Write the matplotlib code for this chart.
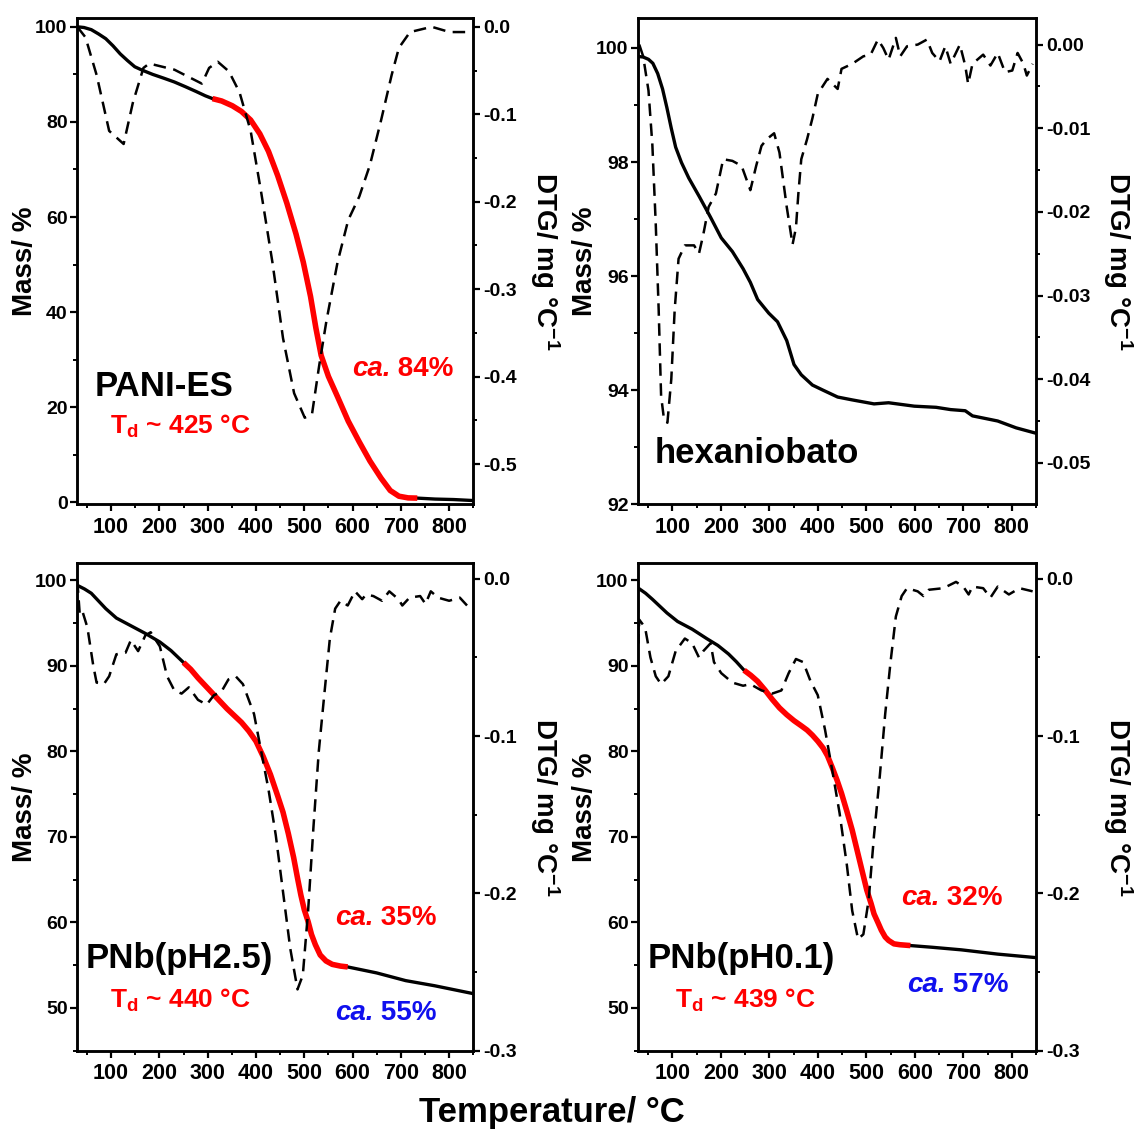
import numpy as np
import matplotlib
matplotlib.use('Agg')
from matplotlib import pyplot as plt
from matplotlib.ticker import MultipleLocator, FuncFormatter

plt.rcParams['font.family'] = ['Liberation Sans', 'DejaVu Sans']
plt.rcParams['font.weight'] = 'bold'
plt.rcParams['mathtext.fontset'] = 'custom'
plt.rcParams['mathtext.rm'] = 'Liberation Sans:bold'
plt.rcParams['mathtext.it'] = 'Liberation Sans:bold:italic'
plt.rcParams['mathtext.bf'] = 'Liberation Sans:bold'
plt.rcParams['axes.unicode_minus'] = False

RED = '#ff0000'
BLUE = '#1010ee'

# ---------------- PANI-ES ----------------
pani_T = [30, 44, 59, 74, 89, 104, 119, 134, 149, 164, 186, 209, 231, 254, 276, 295, 310,
          329, 351, 370, 389, 408, 426, 445, 464, 483, 498, 513, 524, 535, 550, 569, 591,
          614, 636, 659, 678, 696, 715, 734, 771, 809, 848]
pani_m = [100, 99.85, 99.4, 98.5, 97.5, 96.0, 94.3, 92.9, 91.6, 90.9, 90.0, 89.2, 88.4,
          87.4, 86.4, 85.5, 84.9, 84.4, 83.4, 82.2, 80.4, 77.5, 73.8, 68.7, 62.9, 56.4,
          50.5, 43.3, 36.7, 30.9, 26.5, 22.2, 17.1, 12.7, 8.7, 5.1, 2.5, 1.3, 0.95, 0.9,
          0.7, 0.6, 0.4]
pani_red = (310, 734)
pani_dT = [30, 47, 70, 96, 126, 145, 167, 179, 231, 288, 303, 321, 344, 366, 389, 411,
           434, 456, 479, 501, 516, 531, 546, 569, 591, 614, 636, 659, 681, 696, 719,
           764, 801, 848]
pani_dtg = [0.0, -0.012, -0.055, -0.119, -0.134, -0.087, -0.047, -0.042, -0.049, -0.065,
            -0.047, -0.040, -0.051, -0.075, -0.119, -0.19, -0.269, -0.356, -0.419, -0.447,
            -0.443, -0.387, -0.336, -0.269, -0.221, -0.194, -0.158, -0.107, -0.055,
            -0.024, -0.006, 0.0, -0.006, -0.006]

# ---------------- hexaniobato ----------------
hex_T = [30, 40, 51, 60, 70, 80, 89, 98, 107, 119, 134, 156, 179, 201, 224, 246, 261, 276,
         299, 317, 336, 351, 366, 389, 411, 441, 471, 516, 546, 599, 644, 674, 704, 719,
         771, 809, 848]
hex_m = [99.85, 99.84, 99.80, 99.73, 99.55, 99.28, 98.95, 98.59, 98.26, 97.99, 97.72,
         97.39, 97.03, 96.67, 96.43, 96.13, 95.89, 95.59, 95.35, 95.20, 94.87, 94.45,
         94.27, 94.09, 94.00, 93.88, 93.83, 93.76, 93.78, 93.72, 93.70, 93.66, 93.64,
         93.55, 93.46, 93.34, 93.25]
hex_dT = [32, 40, 51, 59, 66, 72, 77, 83, 90, 98, 105, 113, 126, 145, 155, 164, 175, 190,
          205, 224, 243, 261, 273, 284, 295, 310, 321, 336, 348, 355, 360, 366, 378, 389,
          400, 411, 420, 441, 449, 471, 494, 509, 524, 535, 546, 561, 570, 584, 606, 625,
          636, 651, 663, 674, 693, 704, 710, 719, 741, 756, 771, 786, 801, 812, 824, 831,
          843]
hex_dtg = [0.0, -0.0014, -0.0055, -0.012, -0.0215, -0.0317, -0.042, -0.0448, -0.0452,
           -0.040, -0.0317, -0.0256, -0.024, -0.024, -0.025, -0.0227, -0.0194, -0.0178,
           -0.0137, -0.0139, -0.0145, -0.0174, -0.0145, -0.0121, -0.0113, -0.0106, -0.0129,
           -0.0194, -0.0239, -0.0219, -0.0178, -0.0137, -0.0113, -0.0088, -0.0059, -0.0049,
           -0.0041, -0.0053, -0.0029, -0.0023, -0.0014, -0.0012, 0.0006, -0.0004, -0.0018,
           0.0008, -0.0014, -0.0002, 0.0, 0.0006, -0.001, -0.002, -0.0002, -0.0023, 0.0,
           -0.0025, -0.0047, -0.0023, -0.0012, -0.0025, -0.001, -0.0033, -0.0031, -0.001,
           -0.0023, -0.0037, -0.0023]

# ---------------- PNb(pH2.5) ----------------
p25_T = [31, 45, 59, 74, 89, 111, 141, 171, 201, 224, 250, 265, 280, 295, 310, 325, 340,
         355, 370, 385, 400, 415, 430, 445, 456, 467, 478, 486, 493, 500, 508, 515, 523,
         533, 545, 558, 575, 590, 650, 710, 770, 848]
p25_m = [99.4, 99.0, 98.5, 97.6, 96.7, 95.6, 94.7, 93.8, 92.8, 91.8, 90.4, 89.6, 88.6,
         87.7, 86.8, 85.9, 85.0, 84.2, 83.4, 82.4, 81.2, 79.4, 77.3, 74.8, 72.9, 70.4,
         67.6, 65.2, 63.2, 61.5, 60.1, 58.6, 57.4, 56.2, 55.5, 55.1, 54.9, 54.8, 54.1,
         53.2, 52.6, 51.7]
p25_red = (250, 590)
p25_dT = [30, 35, 40, 51, 63, 70, 85, 96, 111, 130, 141, 156, 171, 182, 201, 216, 231,
          246, 261, 280, 298, 313, 328, 343, 358, 373, 396, 411, 426, 441, 456, 471, 486,
          497, 508, 519, 530, 542, 553, 564, 575, 590, 605, 620, 628, 643, 661, 676, 695,
          703, 718, 740, 751, 762, 777, 800, 822, 837]
p25_dtg = [-0.001, -0.022, -0.02, -0.031, -0.055, -0.066, -0.067, -0.062, -0.048, -0.047,
           -0.039, -0.046, -0.036, -0.034, -0.043, -0.062, -0.071, -0.073, -0.069, -0.077,
           -0.080, -0.074, -0.072, -0.064, -0.062, -0.067, -0.086, -0.110, -0.134, -0.163,
           -0.199, -0.235, -0.261, -0.252, -0.211, -0.158, -0.110, -0.072, -0.038, -0.019,
           -0.014, -0.017, -0.008, -0.013, -0.010, -0.011, -0.014, -0.008, -0.013, -0.017,
           -0.012, -0.011, -0.016, -0.008, -0.012, -0.014, -0.012, -0.017]

# ---------------- PNb(pH0.1) ----------------
p01_T = [30, 45, 59, 74, 89, 111, 141, 171, 194, 216, 232, 248, 262, 276, 291, 306, 321,
         336, 351, 366, 378, 389, 400, 411, 420, 430, 440, 449, 460, 471, 486, 501, 510,
         516, 524, 531, 539, 546, 557, 569, 591, 636, 696, 771, 848]
p01_m = [99.1, 98.5, 97.8, 97.0, 96.2, 95.2, 94.3, 93.2, 92.4, 91.4, 90.5, 89.5, 88.9,
         88.2, 87.2, 86.1, 85.1, 84.3, 83.6, 83.0, 82.5, 81.9, 81.2, 80.4, 79.5, 78.1,
         76.6, 75.1, 73.0, 70.8, 67.3, 63.8, 62.2, 61.0, 60.0, 59.1, 58.3, 57.9, 57.5,
         57.4, 57.3, 57.1, 56.8, 56.3, 55.9]
p01_red = (248, 591)
p01_dT = [29, 30, 32, 44, 55, 66, 77, 92, 107, 126, 141, 155, 164, 179, 186, 201, 224, 246,
          261, 284, 306, 325, 340, 355, 370, 385, 400, 415, 430, 445, 460, 471, 483, 494,
          505, 516, 528, 539, 550, 561, 573, 584, 606, 618, 629, 659, 685, 700, 711, 719,
          741, 756, 771, 794, 816, 843]
p01_dtg = [-0.001, -0.041, -0.026, -0.031, -0.050, -0.062, -0.067, -0.062, -0.046, -0.038,
           -0.041, -0.050, -0.046, -0.041, -0.053, -0.060, -0.066, -0.068, -0.067, -0.071,
           -0.073, -0.071, -0.060, -0.051, -0.053, -0.065, -0.074, -0.096, -0.122, -0.149,
           -0.182, -0.211, -0.229, -0.226, -0.204, -0.163, -0.125, -0.086, -0.053, -0.024,
           -0.011, -0.006, -0.008, -0.011, -0.007, -0.006, -0.002, -0.005, -0.010, -0.005,
           -0.006, -0.012, -0.005, -0.010, -0.006, -0.008]

# axes rectangles [left, bottom, width, height] in figure fraction
rects = [
    [0.0679, 0.5549, 0.3480, 0.4290],
    [0.5609, 0.5549, 0.3495, 0.4290],
    [0.0679, 0.0726, 0.3480, 0.4302],
    [0.5609, 0.0726, 0.3495, 0.4302],
]

panels = [
    dict(T=pani_T, m=pani_m, red=pani_red, dT=pani_dT, dtg=pani_dtg,
         ylim=(-0.4, 101.8), ymaj=20, ymin=10, yfmt='%d',
         y2lim=(-0.546, 0.0098), y2maj=0.1, y2min=0.05, y2fmt='%.1f',
         name='PANI-ES', name_xy=(0.043, 0.242),
         td='T$_{\\mathrm{d}}$ ~ 425 °C', td_xy=(0.083, 0.161),
         ca1='84%', ca1_xy=(0.693, 0.278), ca2=None, ca2_xy=None,
         lab2x=1.181),
    dict(T=hex_T, m=hex_m, red=None, dT=hex_dT, dtg=hex_dtg,
         ylim=(92, 100.52), ymaj=2, ymin=1, yfmt='%d',
         y2lim=(-0.05495, 0.00315), y2maj=0.01, y2min=0.005, y2fmt='%.2f',
         name='hexaniobato', name_xy=(0.04, 0.105),
         td=None, td_xy=None, ca1=None, ca1_xy=None, ca2=None, ca2_xy=None,
         lab2x=1.206),
    dict(T=p25_T, m=p25_m, red=p25_red, dT=p25_dT, dtg=p25_dtg,
         ylim=(45, 102), ymaj=10, ymin=5, yfmt='%d',
         y2lim=(-0.3, 0.0098), y2maj=0.1, y2min=0.05, y2fmt='%.1f',
         name='PNb(pH2.5)', name_xy=(0.022, 0.19),
         td='T$_{\\mathrm{d}}$ ~ 440 °C', td_xy=(0.083, 0.104),
         ca1='35%', ca1_xy=(0.65, 0.272), ca2='55%', ca2_xy=(0.65, 0.077),
         lab2x=1.181),
    dict(T=p01_T, m=p01_m, red=p01_red, dT=p01_dT, dtg=p01_dtg,
         ylim=(45, 102), ymaj=10, ymin=5, yfmt='%d',
         y2lim=(-0.3, 0.0098), y2maj=0.1, y2min=0.05, y2fmt='%.1f',
         name='PNb(pH0.1)', name_xy=(0.024, 0.19),
         td='T$_{\\mathrm{d}}$ ~ 439 °C', td_xy=(0.092, 0.104),
         ca1='32%', ca1_xy=(0.66, 0.313), ca2='57%', ca2_xy=(0.675, 0.135),
         lab2x=1.206),
]


def fmt_tick(f):
    return FuncFormatter(lambda v, pos: f % (0.0 if abs(v) < 1e-9 else v))


def ca_label(ax, xy, value, color):
    t1 = ax.text(xy[0], xy[1], 'ca.', transform=ax.transAxes, fontsize=20,
                 fontweight='bold', style='italic', color=color, ha='left', va='center')
    ax.annotate(' ' + value, xy=(1, 0.5), xycoords=t1, fontsize=20, fontweight='bold',
                color=color, ha='left', va='center')


fig = plt.figure(figsize=(11.38, 11.33), dpi=100)

for rect, p in zip(rects, panels):
    ax = fig.add_axes(rect)
    ax2 = ax.twinx()

    T = np.array(p['T'], dtype=float)
    m = np.array(p['m'], dtype=float)
    ax.plot(T, m, color='black', lw=2.4, zorder=3, solid_joinstyle='round')
    if p['red'] is not None:
        lo, hi = p['red']
        sel = (T >= lo) & (T <= hi)
        ax.plot(T[sel], m[sel], color=RED, lw=4.0, zorder=4, solid_capstyle='butt',
                solid_joinstyle='round')

    ax2.plot(p['dT'], p['dtg'], color='black', lw=1.8, linestyle=(0, (5, 3)))

    ax.set_xlim(30, 850)
    ax.set_ylim(*p['ylim'])
    ax2.set_ylim(*p['y2lim'])

    ax.xaxis.set_major_locator(MultipleLocator(100))
    ax.xaxis.set_minor_locator(MultipleLocator(50))
    ax.yaxis.set_major_locator(MultipleLocator(p['ymaj']))
    ax.yaxis.set_minor_locator(MultipleLocator(p['ymin']))
    ax.yaxis.set_major_formatter(fmt_tick(p['yfmt']))
    ax2.yaxis.set_major_locator(MultipleLocator(p['y2maj']))
    ax2.yaxis.set_minor_locator(MultipleLocator(p['y2min']))
    ax2.yaxis.set_major_formatter(fmt_tick(p['y2fmt']))

    for a in (ax, ax2):
        for s in a.spines.values():
            s.set_linewidth(1.8)
        a.tick_params(which='major', direction='out', length=5, width=1.6)
        a.tick_params(which='minor', direction='out', length=3, width=1.4)
    ax.tick_params(axis='x', labelsize=15.5, pad=4)
    ax.tick_params(axis='y', labelsize=14, pad=2)
    ax2.tick_params(axis='y', labelsize=14, pad=2)
    for lab in ax.get_xticklabels() + ax.get_yticklabels() + ax2.get_yticklabels():
        lab.set_fontweight('bold')

    ax.set_ylabel('Mass/ %', fontsize=20, fontweight='bold', va='center')
    ax.yaxis.set_label_coords(-0.133, 0.5)
    ax2.set_ylabel('DTG/ mg °C$^{-1}$', fontsize=20, fontweight='bold',
                   rotation=270, va='center')
    ax2.yaxis.set_label_coords(p['lab2x'], 0.5)

    ax.text(p['name_xy'][0], p['name_xy'][1], p['name'], transform=ax.transAxes,
            fontsize=25, fontweight='bold', ha='left', va='center', zorder=6)
    if p['td'] is not None:
        ax.text(p['td_xy'][0], p['td_xy'][1], p['td'], transform=ax.transAxes,
                fontsize=19, fontweight='bold', color=RED, ha='left', va='center')
    if p['ca1'] is not None:
        ca_label(ax, p['ca1_xy'], p['ca1'], RED)
    if p['ca2'] is not None:
        ca_label(ax, p['ca2_xy'], p['ca2'], BLUE)

fig.text(0.485, 0.0177, 'Temperature/ °C', fontsize=25, fontweight='bold',
         ha='center', va='center')

fig.savefig('out.png', dpi=100)
